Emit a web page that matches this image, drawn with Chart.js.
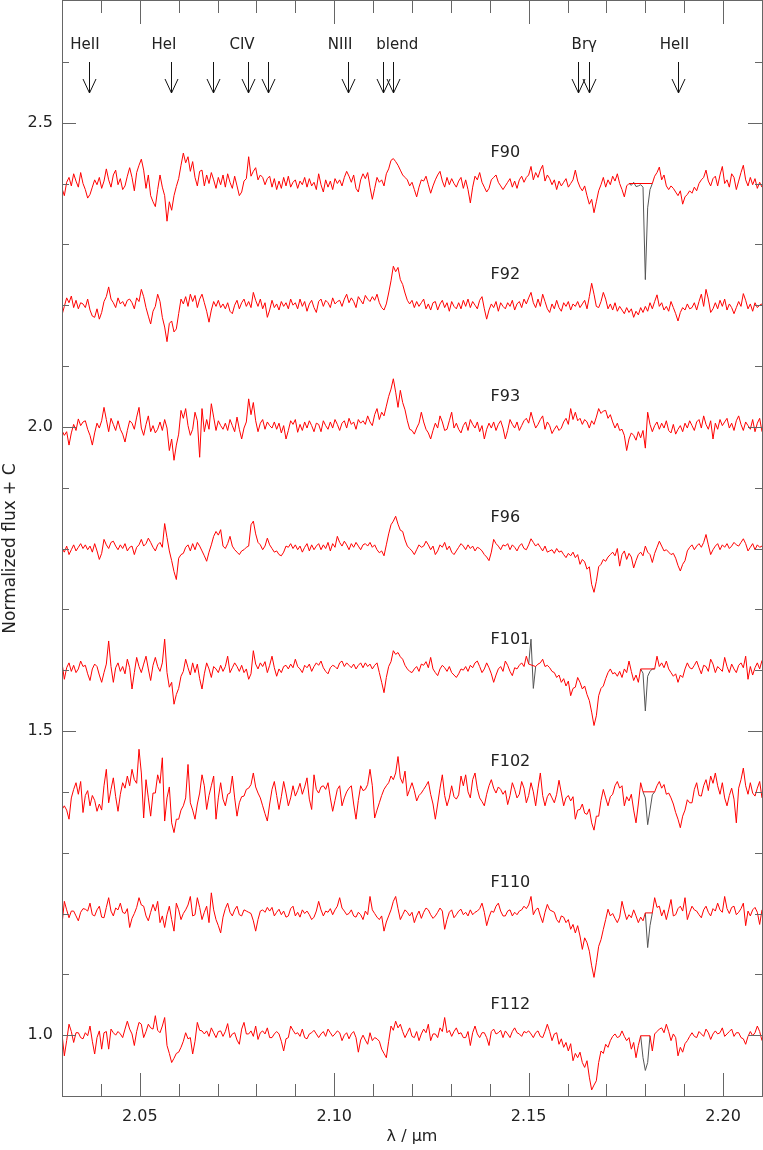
<!DOCTYPE html>
<html>
<head>
<meta charset="utf-8">
<title>K-band spectra F90 - F112</title>
<script src="https://cdn.jsdelivr.net/npm/chart.js@4.4.1/dist/chart.umd.min.js"></script>
<style>
  html, body { margin: 0; padding: 0; background: #fff; }
</style>
</head>
<body>
<canvas id="spectra" width="763" height="1150"></canvas>
<script>
// wavelength grid of the spectra (micron)
const lambdaStart = 2.03;
const lambdaStep = 0.0006;

const starNames = ['F90', 'F92', 'F93', 'F96', 'F101', 'F102', 'F110', 'F112'];
const offsetC = [1.4, 1.2, 1.0, 0.8, 0.6, 0.4, 0.2, 0.0];

// normalized flux - 1, in units of 0.001 (null = bad pixels, bridged by a straight line)
const f90 = [
  -8,-20,2,10,-4,16,4,-6,18,0, -10,-24,-18,-6,6,-2,10,-8,4,24, 6,-6,14,22,-2,8,-10,-4,12,26,
  10,-12,18,30,40,22,-8,14,-20,-30, -38,-10,14,-6,-20,-62,-30,-44,-20,-5, 8,30,50,34,44,20,36,10,-4,20,
  22,-4,14,0,18,6,-8,10,-2,14, -6,16,2,-8,12,-4,-20,-14,4,8, 44,12,20,26,6,14,10,-2,8,12,
  -6,8,-10,4,-8,10,-4,12,-6,2, 6,-8,4,-2,10,-6,8,-4,2,-10, 16,-2,-14,6,-6,4,-10,8,0,6,
  -4,10,20,12,2,14,-8,-14,6,16, 8,18,-6,-26,-8,10,2,6,-4,16, 24,38,41,36,30,22,14,10,6,-4,
  2,-10,-22,-6,6,4,12,-2,-16,-4, 6,14,20,4,-6,10,-2,8,0,-6, 4,10,-8,6,-10,-32,-6,12,6,18,
  2,-6,-14,-8,6,10,14,2,-4,-10, -4,2,8,-6,4,-8,6,12,2,10, 14,28,6,18,10,22,30,4,14,8,
  -2,6,-10,4,-4,2,8,-6,0,6, 22,4,-6,-12,-4,-20,-34,-26,-48,-30, -12,-2,10,-6,6,-2,12,4,16,0,
  -10,-22,-4,0,null,null,null,null,null,null, null,null,null,0,12,18,27,6,14,-4, -10,-4,-8,-14,-20,-12,-34,-22,-18,-12,
  -16,-6,-12,0,6,10,22,4,-4,8, 12,-4,14,28,0,6,-6,16,10,-10, 4,18,30,6,-4,10,-2,8,-8,2,
  -6
];
const f92 = [
  -16,-2,12,4,15,-4,8,-6,4,2, -4,10,-8,-18,-20,-6,-23,-12,6,14, 30,10,4,-4,12,2,6,-2,8,10,
  4,-6,12,6,26,14,-4,-18,-31,-10, -2,18,6,-20,-36,-60,-30,-26,-44,-39, -14,10,2,14,-2,18,6,16,-4,10,
  18,4,-10,-28,-8,6,-2,8,-4,2, -6,4,-10,-14,0,8,-6,4,10,-2, 6,-4,21,8,-2,10,-6,4,-20,-8,
  8,-4,2,-8,6,-2,4,-6,10,0, 4,-6,10,-2,6,-10,2,8,-4,-12, 6,10,-2,8,4,-4,12,2,6,8,
  -2,10,18,4,12,6,-4,14,8,2, 16,10,6,14,8,18,4,-4,-8,2, 20,40,64,55,62,42,34,20,8,2,
  8,-4,6,-2,4,10,-6,2,-8,4, 6,-8,2,8,-4,4,-10,6,-2,-6, 4,-6,8,-2,10,-4,6,0,-6,8,
  14,-6,-23,-8,2,-4,6,-10,4,-2, -6,4,-2,8,-8,2,6,-4,10,2, 12,21,4,-4,10,-2,18,6,-6,-12,
  2,-6,8,-4,-10,4,-2,6,-8,2, -2,6,-4,2,8,-6,14,36,18,-2, -4,6,21,10,-6,2,-8,4,-10,-2,
  -8,-14,-4,-12,-6,-20,-10,-16,-4,-12, -2,-10,4,-6,6,17,-2,4,-8,-2, -10,6,-4,-14,-26,-12,-4,-8,2,-6,
  -4,4,-8,6,18,-2,26,10,-12,-6, 4,-6,8,-2,10,-8,2,-4,-14,-4, 6,-2,19,8,-6,2,-10,4,-4,0,
  2
];
const f93 = [
  -6,-14,-8,-30,-10,4,-6,13,2,8, 10,-4,-14,-30,-10,6,-2,10,32,12, -8,14,4,-6,10,-4,-12,-25,-6,10,
  6,-4,16,32,-2,-14,4,18,-8,2, -10,-4,8,-6,12,-2,-39,-20,-55,-30, -12,27,14,30,2,-14,-4,24,10,-50,
  30,-8,12,-4,38,16,-6,10,2,-4, 6,-6,12,2,-8,16,-4,-20,-2,8, 46,20,40,10,-8,6,12,-4,8,2,
  -2,8,-4,6,-10,2,-20,-6,10,4, 12,-9,4,-6,8,-2,10,2,-8,6, 4,-8,10,2,-4,8,-2,12,4,-6,
  6,10,-2,14,4,8,-4,12,6,10, 4,18,8,2,20,30,12,24,18,34, 50,62,79,57,32,60,40,28,10,-4,
  -6,-12,-2,6,24,8,-4,-10,-20,-6, 6,-2,18,8,-6,-4,10,24,-2,6, -4,-10,2,8,-6,12,4,-2,8,-8,
  2,-20,-4,6,-2,8,-6,4,10,-2, -20,-6,12,4,-2,8,-6,2,10,14, 6,24,10,-2,4,12,18,-4,8,2,
  -11,-4,2,-6,-2,8,14,4,30,12, 24,10,14,4,12,8,-2,10,4,16, 30,22,26,27,14,20,8,-2,6,-6,
  -4,-14,-39,-20,-10,-14,-22,-8,-18,-6, -35,24,4,-8,2,8,-4,6,-2,10, -6,-10,4,-12,-4,2,-8,6,-2,10,
  2,-6,8,12,-2,18,4,-4,10,-20, 6,-4,12,2,8,14,-2,6,-6,10, 18,4,-6,8,2,-4,12,-8,6,14,
  -8
];
const f96 = [
  0,-6,4,-10,-2,6,-4,2,8,0, 6,-2,4,-6,8,-4,-18,-8,15,6, 0,10,12,4,-2,6,0,8,-4,2,
  4,-10,2,6,15,4,8,17,10,2, -4,6,10,2,41,18,-4,-20,-38,-51, -16,-10,-8,2,6,-4,8,-2,10,4,
  -4,-12,-21,-6,6,20,28,22,31,4, 0,8,20,4,-2,-6,-10,-4,-2,2, 4,39,45,24,10,6,-2,4,17,6,
  0,-6,-4,-10,-12,-6,4,2,8,0, 6,-2,4,-6,2,8,-4,6,-2,4, 8,-2,6,0,10,-4,8,2,20,10,
  4,12,6,-2,8,2,10,4,-2,6, 8,4,10,2,6,-2,-7,-4,-12,6, 24,39,45,53,40,30,28,14,4,0,
  -4,-10,-2,6,2,4,12,6,-2,4, -10,-4,6,2,10,-2,4,-6,-10,-4, 2,8,4,-2,6,0,4,-4,2,0,
  -4,-10,-14,-20,-6,15,8,4,-2,6, 4,8,-2,6,2,-4,4,8,0,-2, 6,16,10,4,8,2,-4,4,-6,-4,
  -2,-8,0,-6,-4,-10,-15,-8,-12,-6, -15,-10,-26,-18,-22,-34,-30,-59,-72,-54, -30,-26,-18,-21,-14,-10,-6,-12,0,-29,
  -10,-4,-18,-8,-14,-32,-20,-10,-6,-12, 4,-6,-10,-23,-8,2,12,4,-4,-2, -6,-10,-8,-16,-28,-37,-26,-20,-4,2,
  6,-2,4,8,2,10,23,6,-10,-2, 4,8,-2,6,2,8,0,4,10,6, 4,10,16,8,-4,2,8,-2,6,2,
  4
];
const f101 = [
  12,-15,4,12,-2,8,-4,2,15,6, 8,-6,-17,2,10,6,-8,-20,-4,10, 48,6,-20,4,12,-2,6,-6,18,4,
  -31,-4,21,6,-4,10,23,2,-17,8, 21,6,-2,12,51,-4,-28,-20,-56,-40, -30,-10,-2,18,4,-8,12,-4,10,-14,
  -31,-6,12,2,-12,6,2,-4,8,-2, 6,23,-4,4,12,6,-2,8,-4,2, -15,-6,32,10,2,12,6,14,-4,8,
  23,4,-10,2,-4,6,8,2,10,4, 18,6,2,-4,8,4,10,-2,6,12, 8,15,4,-2,-6,4,8,6,2,12,
  15,6,12,8,4,10,2,8,12,4, 12,6,10,2,8,12,-4,-20,-37,-12, 6,14,32,26,29,22,18,8,2,-2,
  -4,2,6,-2,10,8,14,4,21,2, -4,-9,2,8,4,-2,6,-4,-8,-12, -6,2,0,6,-2,8,4,12,15,6,
  -4,2,12,4,-6,-20,-8,2,6,-2, 15,8,-2,-9,4,2,8,12,6,23, 10,null,null,6,10,12,18,6,8,4,
  -2,-4,-12,-8,-20,-14,-26,-18,-42,-30, -28,-12,-20,-31,-26,-40,-50,-69,-91,-75, -42,-30,-26,-14,-4,2,-6,-4,-10,-2,
  -12,2,-4,15,-2,-17,-8,-20,2,null, null,null,null,null,2,23,6,12,4,15, 2,-4,-10,-6,-20,-8,-12,2,12,4,
  2,8,15,4,-6,8,6,-2,18,10, -4,6,2,-2,21,6,-4,10,2,-4, 8,12,4,23,-15,6,-8,4,12,2,
  16
];
const f102 = [
  -29,-23,-30,-45,-10,4,15,-4,17,-34, -6,2,-23,-6,-14,-32,-20,-30,10,37, -18,4,23,-8,-32,-4,15,6,26,10,
  37,20,14,70,31,-43,20,-10,-40,-2, -2,28,14,56,-48,-10,8,-51,-67,-45, -45,-30,-23,-10,45,-18,-30,-45,-20,-2,
  28,10,-29,-6,10,26,-45,-10,15,-12, -23,-4,-2,26,-10,-40,-18,-8,-7,4, 6,12,31,8,-2,-10,-23,-36,-48,-20,
  4,17,-6,-29,-8,17,-2,-23,-10,10, -7,2,14,-4,8,23,-12,-29,28,4, -2,8,10,4,15,-10,-32,-14,4,10,
  -23,-10,0,6,10,-20,-45,-14,10,2, 4,12,37,10,-43,-30,-18,-6,4,10, 15,26,20,31,58,23,14,34,-7,4,
  15,2,-15,-6,-2,4,10,17,-4,-20, -45,-20,6,28,-6,-23,-10,10,-8,-12, -5,26,10,28,0,-10,20,31,5,-10,
  -16,-23,-4,10,20,6,-2,8,4,-4, 2,-21,-6,15,4,-10,-4,17,6,-18, -6,15,0,-23,6,31,-6,-23,-8,-2,
  -10,-18,-4,19,-2,-23,-10,-6,-15,-8, -45,-30,-29,-20,-35,-37,-28,-51,-63,-40, -40,-14,4,-10,-23,-8,-4,10,17,6,
  10,-23,-8,-15,-4,-30,-51,-20,15,0, null,null,null,null,0,10,17,6,12,-4, -2,-10,-20,-34,-45,-59,-40,-30,-13,-18,
  -18,4,15,-6,-7,10,20,2,26,14, 31,10,-4,15,-10,-23,-6,6,-12,-51, 6,20,39,10,-4,15,-2,-7,6,17,
  -10
];
const f110 = [
  -18,20,6,-7,4,4,-4,-12,2,8, 7,4,17,-2,-4,6,12,-6,-7,10, 26,4,-4,9,6,17,2,0,8,-23,
  -8,0,10,26,14,12,-4,-12,2,15, 4,20,-15,-4,-23,-2,12,-10,-29,17, 6,-10,0,6,14,28,-4,-2,26,10,
  -10,2,12,-15,34,6,-10,-20,-32,-6, 8,17,2,-4,6,12,-2,-4,6,4, 2,0,-12,-29,-10,4,6,2,10,4,
  10,-4,2,7,-2,4,-6,-4,8,12, -4,2,-6,6,0,4,-2,-10,-6,4, 20,6,-4,4,2,8,-2,6,12,26,
  9,4,-2,0,6,-4,-6,2,-2,-10, 4,-2,28,6,0,-6,-10,-4,-29,-14, -4,6,20,28,8,-10,-2,6,2,-4,
  2,-15,-4,4,-8,2,9,6,-2,-8, -4,2,9,4,-26,-10,2,6,-7,-2, 4,7,-2,2,-4,6,-2,2,4,8,
  17,2,-20,-6,4,2,12,17,4,-4, -4,4,6,-4,2,-2,4,6,12,8, 14,28,-2,6,9,-4,-15,2,15,6,
  4,2,-10,-15,-4,-6,-15,-10,-26,-18, -32,-20,-37,-59,-40,-48,-62,-86,-105,-81, -54,-43,-26,-10,7,-4,0,-8,-15,-6,
  20,4,-10,-2,-7,6,-4,-15,-6,-12, 1,null,null,1,26,10,12,-4,6,-10, 6,23,-4,-2,8,12,4,26,-10,2,
  12,6,4,-2,-7,6,12,2,-4,8, 4,17,6,2,28,8,0,10,12,-2, 2,8,17,-20,4,-4,6,10,2,-18,
  6
];
const f112 = [
  2,-34,-9,18,6,-12,4,4,-4,-6, 4,-1,15,-10,-31,-4,7,-23,4,6, -23,10,4,0,6,2,-4,10,23,10,
  2,-17,6,21,18,-4,6,18,12,10, 32,8,4,15,29,-17,-30,-45,-38,-30, -28,-20,-10,4,-6,-4,-31,-10,21,8,
  7,2,7,-2,12,4,-4,6,7,-2, 6,19,-4,2,4,-8,-15,10,21,2, 2,7,-2,15,-7,4,7,2,12,-4,
  -4,2,6,2,-10,-26,-6,-4,15,8, 2,4,-2,10,-4,-6,2,4,8,2, -4,2,6,-2,10,4,-2,2,7,4,
  -9,0,4,-6,2,6,-4,-28,-8,0, -8,-15,4,-9,-4,-6,-10,-23,-30,-37, -10,15,8,23,12,18,6,-4,4,12,
  -2,-4,6,-9,2,10,4,18,-9,2, 2,-4,12,6,29,4,8,-2,6,12, 2,4,-4,-4,6,-17,4,15,2,-4,
  4,4,-4,-17,6,10,2,4,8,-4, 7,2,-4,6,12,4,2,-2,6,4, 7,2,-4,4,7,-2,-4,6,18,6,
  -9,2,4,-15,-6,-20,-12,-26,-14,-42, -30,-37,-28,-45,-53,-42,-69,-90,-82,-75, -45,-26,-30,-15,-20,-9,-2,2,-4,-2,
  7,-2,-9,-4,-23,-12,-37,-17,-1,null, null,null,-1,-26,2,6,10,12,4,18, 6,-9,2,-4,-34,-20,-28,-14,-9,-2,
  4,-2,-4,6,2,-2,10,4,-7,2, 7,2,4,12,-2,2,6,10,-2,4, 4,-4,-6,-15,-2,6,-1,4,15,6,
  -9
];
const starFlux = [f90, f92, f93, f96, f101, f102, f110, f112];

// original (uncorrected) pixels under the bridged gaps, drawn in grey
const grayStar = [0, 4, 4, 5, 6, 7];
const grayStart = [243, 200, 248, 249, 250, 248];
const grayFlux = [
  [0,-3,2,-5,-4,-2,-6,-158,-40,-10,0],
  [10,51,-30,6],
  [2,-5,-67,-10,-2,2,2],
  [0,-10,-54,-30,-5,0],
  [1,-56,-20,1],
  [-1,-37,-58,-45,-1]
];

const xMajorTicks = [2.05, 2.10, 2.15, 2.20];
const xMinorTicks = [2.04, 2.06, 2.07, 2.08, 2.09, 2.11, 2.12, 2.13, 2.14, 2.16, 2.17, 2.18, 2.19];
const yMajorTicks = [1.0, 1.5, 2.0, 2.5];
const yMinorTicks = [1.1, 1.2, 1.3, 1.4, 1.6, 1.7, 1.8, 1.9, 2.1, 2.2, 2.3, 2.4, 2.6];

const lineNames = ['HeII', 'HeI', 'CIV', 'NIII', 'blend', 'Brγ', 'HeII'];
const lineNameLambda = [2.0359, 2.0562, 2.0763, 2.1015, 2.1162, 2.1643, 2.1875];
const lineArrowLambda = [2.0369, 2.0580, 2.0688, 2.0779, 2.0829, 2.1036, 2.1126, 2.1152, 2.1628, 2.1654, 2.1885];
const starLabelLambda = 2.1402;

const FONT = 'DejaVu Sans';
const TEXT = '#222';
const FRAME = '#666';

function toPoints(flux, c, start) {
  return flux.map((v, i) => ({
    x: lambdaStart + (start + i) * lambdaStep,
    y: v === null ? null : 1 + c + v / 1000,
  }));
}

const datasets = [];
starFlux.forEach((flux, k) => {
  datasets.push({
    label: starNames[k],
    data: toPoints(flux, offsetC[k], 0),
    borderColor: '#ff0000',
    borderWidth: 1,
    pointRadius: 0,
    spanGaps: true,
    tension: 0,
    order: 1,
  });
});
grayFlux.forEach((flux, k) => {
  datasets.push({
    label: starNames[grayStar[k]] + ' raw',
    data: toPoints(flux, offsetC[grayStar[k]], grayStart[k]),
    borderColor: '#555',
    borderWidth: 1,
    pointRadius: 0,
    tension: 0,
    order: 2,
  });
});

// keep the plot box fixed: no extra room for edge tick labels
function noEdgePadding(s) {
  s.paddingTop = 0;
  s.paddingBottom = 0;
  s.paddingLeft = 0;
  s.paddingRight = 0;
}

const decorPlugin = {
  id: 'decor',
  afterDraw(chart) {
    const { ctx, chartArea: a } = chart;
    const xs = chart.scales.x;
    const ys = chart.scales.y;
    const crisp = (v) => Math.round(v) + 0.5;
    ctx.save();
    ctx.lineWidth = 1;
    ctx.strokeStyle = FRAME;
    ctx.strokeRect(crisp(a.left), crisp(a.top - 1), Math.round(a.right - a.left), Math.round(a.bottom - a.top + 1));

    // inward ticks on all four sides
    ctx.beginPath();
    const xTick = (v, len) => {
      const px = crisp(xs.getPixelForValue(v));
      ctx.moveTo(px, a.bottom); ctx.lineTo(px, a.bottom - len);
      ctx.moveTo(px, a.top); ctx.lineTo(px, a.top + len);
    };
    const yTick = (v, len) => {
      const py = crisp(ys.getPixelForValue(v));
      ctx.moveTo(a.left, py); ctx.lineTo(a.left + len, py);
      ctx.moveTo(a.right, py); ctx.lineTo(a.right - len, py);
    };
    xMajorTicks.forEach((v) => xTick(v, 23));
    xMinorTicks.forEach((v) => xTick(v, 12));
    yMajorTicks.forEach((v) => yTick(v, 14));
    yMinorTicks.forEach((v) => yTick(v, 7));
    ctx.stroke();

    // line identification arrows
    ctx.strokeStyle = '#111';
    ctx.beginPath();
    lineArrowLambda.forEach((lam) => {
      const px = crisp(xs.getPixelForValue(lam));
      ctx.moveTo(px, 62); ctx.lineTo(px, 93);
      ctx.moveTo(px - 6.5, 79); ctx.lineTo(px, 93); ctx.lineTo(px + 6.5, 79);
    });
    ctx.stroke();

    ctx.fillStyle = TEXT;
    ctx.font = '15px "' + FONT + '"';
    ctx.textAlign = 'center';
    ctx.textBaseline = 'middle';
    lineNames.forEach((name, k) => {
      ctx.fillText(name, xs.getPixelForValue(lineNameLambda[k]), 45);
    });

    // star names above each spectrum
    ctx.font = '16px "' + FONT + '"';
    ctx.textAlign = 'left';
    starNames.forEach((name, k) => {
      ctx.fillText(name, xs.getPixelForValue(starLabelLambda), ys.getPixelForValue(1.05 + offsetC[k]));
    });
    ctx.restore();
  },
};

new Chart(document.getElementById('spectra'), {
  type: 'line',
  data: { datasets },
  options: {
    responsive: false,
    animation: false,
    devicePixelRatio: 1,
    layout: { padding: { top: 1, right: 1, bottom: 0, left: 0 } },
    plugins: {
      legend: { display: false },
      tooltip: { enabled: false },
    },
    scales: {
      x: {
        type: 'linear',
        min: 2.03,
        max: 2.21,
        grid: { display: false, drawTicks: false },
        border: { display: false },
        afterBuildTicks: (s) => { s.ticks = xMajorTicks.map((v) => ({ value: v })); },
        afterFit: (s) => { s.height = 54; noEdgePadding(s); },
        ticks: {
          autoSkip: false,
          maxRotation: 0,
          padding: 11,
          color: TEXT,
          font: { family: FONT, size: 16 },
          callback: (v) => Number(v).toFixed(2),
        },
        title: {
          display: true,
          text: 'λ / μm',
          color: TEXT,
          font: { family: FONT, size: 16 },
          padding: { top: 0, bottom: 4 },
        },
      },
      y: {
        type: 'linear',
        min: 0.9,
        max: 2.7,
        grid: { display: false, drawTicks: false },
        border: { display: false },
        afterBuildTicks: (s) => { s.ticks = yMajorTicks.map((v) => ({ value: v })); },
        afterFit: (s) => { s.width = 62; noEdgePadding(s); },
        ticks: {
          padding: 9,
          color: TEXT,
          font: { family: FONT, size: 16 },
          callback: (v) => Number(v).toFixed(1),
        },
        title: {
          display: true,
          text: 'Normalized flux + C',
          color: TEXT,
          font: { family: FONT, size: 17 },
          padding: { top: 0, bottom: 0 },
        },
      },
    },
  },
  plugins: [decorPlugin],
});
</script>
</body>
</html>
